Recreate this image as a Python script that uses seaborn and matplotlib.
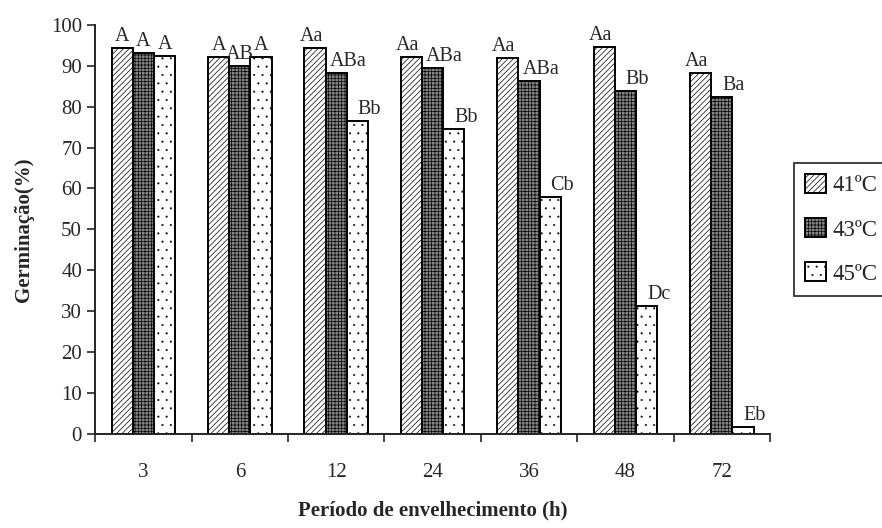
import matplotlib
matplotlib.use("Agg")
import matplotlib.pyplot as plt
import seaborn as sns
import numpy as np
import pandas as pd

# data
periods = ["3", "6", "12", "24", "36", "48", "72"]
temps = ["41ºC", "43ºC", "45ºC"]
germ_41 = [94.4, 92.2, 94.4, 92.2, 92.0, 94.6, 88.3]
germ_43 = [93.2, 90.0, 88.3, 89.5, 86.3, 83.9, 82.4]
germ_45 = [92.4, 92.2, 76.6, 74.6, 57.8, 31.3, 1.8]
lab_41 = ["A", "A", "Aa", "Aa", "Aa", "Aa", "Aa"]
lab_43 = ["A", "AB", "ABa", "ABa", "ABa", "Bb", "Ba"]
lab_45 = ["A", "A", "Bb", "Bb", "Cb", "Dc", "Eb"]

df = pd.DataFrame({
    "Periodo": periods * 3,
    "Temp": [temps[0]] * 7 + [temps[1]] * 7 + [temps[2]] * 7,
    "Germ": germ_41 + germ_43 + germ_45,
})

sns.set_style("ticks")
plt.rcParams["font.family"] = ["Liberation Serif", "DejaVu Serif"]
plt.rcParams["hatch.linewidth"] = 0.5

fig = plt.figure(figsize=(8.82, 5.28), dpi=100)
ax = fig.add_axes([0.108, 0.178, 0.765, 0.775])

colors = ["white", "#858585", "white"]
hatches = ["//////", "+++++", ".."]
hatch_lw = [0.5, 0.5, 0.25]
sns.barplot(data=df, x="Periodo", y="Germ", hue="Temp", order=periods,
            hue_order=temps, palette=colors, width=0.66, ax=ax,
            edgecolor="black", linewidth=1.4, errorbar=None, saturation=1)


def style_patch(p, i):
    p.set_hatch(hatches[i])
    if hasattr(p, "set_hatch_linewidth"):
        p.set_hatch_linewidth(hatch_lw[i])


labels = [lab_41, lab_43, lab_45]
shift = [-4, 12, 12]  # letters drift right of the bars from 12 h on
for i, cont in enumerate(ax.containers):
    for j, p in enumerate(cont.patches):
        style_patch(p, i)
        dx = shift[i] if j >= 2 else 0
        ax.annotate(labels[i][j], (p.get_x() + p.get_width() / 2, p.get_height()),
                    xytext=(dx, 2), textcoords="offset pixels", ha="center",
                    va="bottom", fontsize=14.5)

ax.set_ylim(0, 100)
ax.set_xlim(-0.5, 6.5)
ax.set_yticks(np.arange(0, 101, 10))
ax.tick_params(axis="y", labelsize=15, direction="out", length=6, width=1.2)
ax.set_xticks(np.arange(-0.5, 6.6, 1.0))
ax.set_xticklabels([])
ax.tick_params(axis="x", direction="out", length=6, width=1.2)
ax.set_xticks(np.arange(7), minor=True)
ax.set_xticklabels(periods, minor=True)
ax.tick_params(axis="x", which="minor", length=0, labelsize=15, pad=21)
for s in ["left", "bottom"]:
    ax.spines[s].set_linewidth(1.4)
sns.despine(ax=ax)

ax.set_ylabel("Germinação(%)", fontsize=15, fontweight="bold", labelpad=12)
ax.set_xlabel("Período de envelhecimento (h)", fontsize=15, fontweight="bold", labelpad=13)

leg = ax.legend(loc="center left", bbox_to_anchor=(1.035, 0.5), fontsize=16.5,
                frameon=True, fancybox=False, edgecolor="black",
                handlelength=0.9, handleheight=0.9, handletextpad=0.3,
                borderpad=0.5, labelspacing=0.95, borderaxespad=0)
leg.get_frame().set_linewidth(1.3)
for i, h in enumerate(leg.legend_handles):
    style_patch(h, i)
    h.set_edgecolor("black")

fig.savefig("out.png", dpi=100)
